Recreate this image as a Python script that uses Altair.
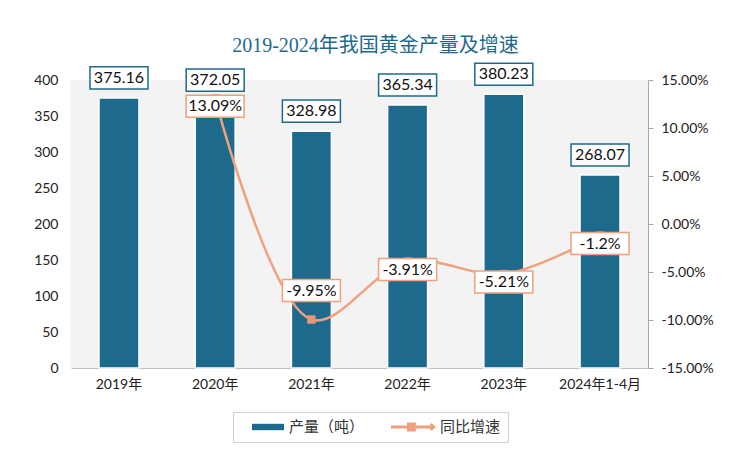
import altair as alt
import pandas as pd

# ---- data ----
categories = ["2019年", "2020年", "2021年", "2022年", "2023年", "2024年1-4月"]
production = [375.16, 372.05, 328.98, 365.34, 380.23, 268.07]
growth_categories = ["2020年", "2021年", "2022年", "2023年", "2024年1-4月"]
growth = [13.09, -9.95, -3.91, -5.21, -1.2]
left_ticks = [0, 50, 100, 150, 200, 250, 300, 350, 400]
right_ticks = [-15, -10, -5, 0, 5, 10, 15]
series = ["产量（吨）", "同比增速"]
title_text = "2019-2024年我国黄金产量及增速"

BAR = "#1D6A8D"
ORANGE = "#F0A07C"
FONT = "Lato, Noto Sans CJK SC, sans-serif"

bars_df = pd.DataFrame({"cat": categories, "p": production, "s": series[0]})
growth_df = pd.DataFrame({"cat": growth_categories, "g": growth, "s": series[1]})

x_enc = alt.X(
    "cat:N",
    sort=categories,
    scale=alt.Scale(domain=categories, paddingInner=0.583, paddingOuter=0.29),
    axis=alt.Axis(
        title=None, labelAngle=0, ticks=False, domain=True, domainColor="#bfbfbf",
        labelFontSize=14, labelFont=FONT, labelColor="#222", labelPadding=9, grid=False,
    ),
)

box_path = "M-1,-0.38H1V0.38H-1Z"
legend_bar_path = "M0.5,-0.4H4.5V0.4H0.5Z"
legend_line_path = ("M-1,-0.2H4.1V0.2H-1Z M1.0,-0.55H2.1V0.55H1.0Z "
                    "M4.1,-0.5L4.6,0L4.1,0.5L3.6,0Z")

legend_cfg = alt.Legend(
    title=None, orient="none", legendX=162, legendY=332, direction="horizontal",
    symbolSize=256, labelOffset=33, columnPadding=26, padding=7,
    strokeColor="#d0d0d0", labelFontSize=15, labelFont="Noto Sans CJK SC",
    labelColor="#333", symbolStrokeWidth=0, symbolOpacity=1,
)

color_enc = alt.Color("s:N", scale=alt.Scale(domain=series, range=[BAR, ORANGE]), legend=legend_cfg)
shape_enc = alt.Shape("s:N", scale=alt.Scale(domain=series, range=[legend_bar_path, legend_line_path]),
                      legend=legend_cfg)

y_left = alt.Y(
    "p:Q",
    scale=alt.Scale(domain=[0, 400], nice=False),
    axis=alt.Axis(
        title=None, values=left_ticks, domain=False, ticks=False, grid=False,
        labelFontSize=14, labelFont=FONT, labelColor="#222", labelPadding=13,
    ),
)

bars = alt.Chart(bars_df).mark_bar(size=40, stroke="white", strokeWidth=1.5).encode(
    x=x_enc, y=y_left, color=color_enc
)
bar_box = alt.Chart(bars_df).mark_point(
    shape=box_path, size=58 * 58, filled=True, fill="white", stroke=BAR, strokeWidth=1.5, opacity=1, yOffset=-20
).encode(x=x_enc, y=y_left)
bar_text = alt.Chart(bars_df).transform_calculate(lbl="'' + datum.p").mark_text(
    font=FONT, fontSize=16, color="#111", baseline="middle", yOffset=-20
).encode(x=x_enc, y=y_left, text="lbl:N")

bar_group = alt.layer(bars, bar_box, bar_text)

y_right = alt.Y(
    "g:Q",
    scale=alt.Scale(domain=[-15, 15], nice=False),
    axis=alt.Axis(
        title=None, orient="right", values=right_ticks, grid=False,
        labelExpr="(datum.value < 0 ? '-' : '') + format(abs(datum.value), '.2f') + '%'",
        domain=True, domainColor="#a6a6a6", ticks=True, tickColor="#a6a6a6", tickSize=5,
        labelFontSize=14, labelFont=FONT, labelColor="#222", labelPadding=8,
    ),
)

line = alt.Chart(growth_df).mark_line(color=ORANGE, strokeWidth=2.5, interpolate="catmull-rom").encode(
    x=x_enc, y=y_right
)
markers = alt.Chart(growth_df).mark_point(shape="square", filled=True, size=70, color="#E8987A", opacity=1).encode(
    x=x_enc, y=y_right
)
legend_layer = alt.Chart(growth_df).transform_filter("false").mark_point(filled=True, opacity=1).encode(
    x=x_enc, y=y_right, color=color_enc, shape=shape_enc
)


def growth_labels(filter_expr, dy):
    base = alt.Chart(growth_df).transform_filter(filter_expr).transform_calculate(lbl="datum.g + '%'")
    box = base.mark_point(
        shape=box_path, size=58 * 58, filled=True, fill="white", stroke=ORANGE, strokeWidth=1.5,
        opacity=1, yOffset=dy
    ).encode(x=x_enc, y=y_right)
    txt = base.mark_text(font=FONT, fontSize=16, color="#111", baseline="middle", yOffset=dy).encode(
        x=x_enc, y=y_right, text="lbl:N"
    )
    return [box, txt]


growth_group = alt.layer(
    line, markers, legend_layer,
    *growth_labels("datum.g > -8", 8),
    *growth_labels("datum.g <= -8", -29),
)

chart = alt.layer(bar_group, growth_group).resolve_scale(y="independent").properties(
    width=577,
    height=288,
    autosize=alt.AutoSizeParams(type="none"),
    padding={"left": 71, "top": 80, "right": 102, "bottom": 104},
    background="white",
    title=alt.TitleParams(
        title_text, font="Liberation Serif, Noto Sans CJK SC, serif", fontSize=20, fontWeight="normal",
        color="#1F6A8C", anchor="middle", frame="group", offset=4, dx=16,
    ),
).configure_view(fill="#f3f3f3", stroke=None)

chart.save("out.html", embed_options={"renderer": "svg", "actions": False})
